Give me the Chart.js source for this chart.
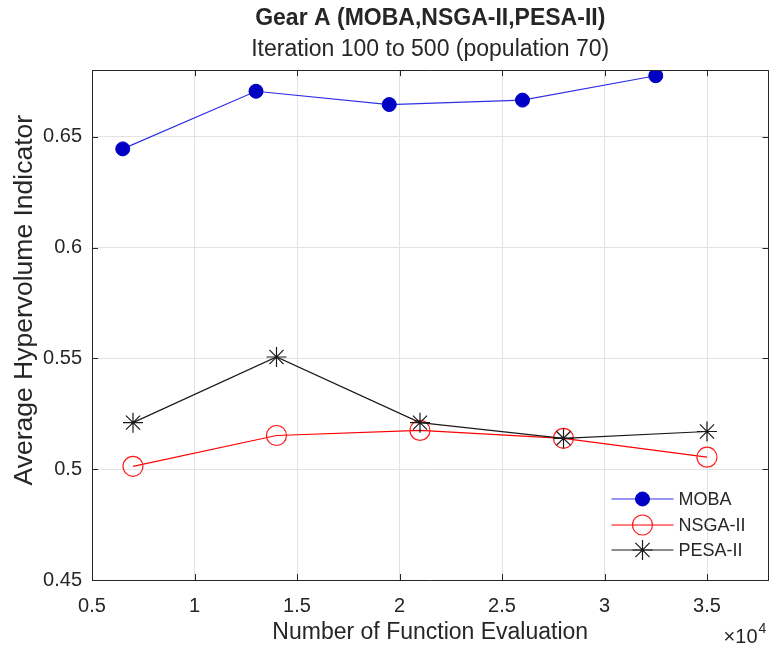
<!DOCTYPE html>
<html>
<head>
<meta charset="utf-8">
<script src="https://cdn.jsdelivr.net/npm/chart.js@4/dist/chart.umd.min.js"></script>
<style>
  html, body { margin: 0; padding: 0; background: #ffffff; }
  #wrap { width: 769px; height: 654px; }
</style>
</head>
<body>
<div id="wrap"><canvas id="hv" width="769" height="654"></canvas></div>
<script>
// Function evaluations at which each algorithm was sampled
const evalsMOBA   = [6500, 13000, 19500, 26000, 32500];
const evalsOthers = [7000, 14000, 21000, 28000, 35000];

// Average hypervolume indicator per algorithm
const hvMOBA = [0.6445, 0.6705, 0.6645, 0.6665, 0.6775];
const hvNSGA = [0.5013, 0.5152, 0.5175, 0.5139, 0.5054];
const hvPESA = [0.5210, 0.5506, 0.5210, 0.5139, 0.5170];

const seriesNames = ['MOBA', 'NSGA-II', 'PESA-II'];

// Axis ticks
const xTickValues = [5000, 10000, 15000, 20000, 25000, 30000, 35000];
const yTickValues = [0.45, 0.5, 0.55, 0.6, 0.65];

const yAxisLabel = 'Average Hypervolume Indicator';

const FONT = "'Liberation Sans', Arial, Helvetica, sans-serif";
const INK = '#262626';
const GRID = '#e3e3e3';

const toXY = (xs, ys) => xs.map((x, i) => ({ x: x, y: ys[i] }));

// Box outline with inward tick marks on all four sides
const boxPlugin = {
  id: 'box',
  afterDatasetsDraw(chart) {
    const { ctx, chartArea: a, scales } = chart;
    const len = 6;
    ctx.save();
    ctx.strokeStyle = INK;
    ctx.lineWidth = 1;
    ctx.beginPath();
    ctx.moveTo(a.left, Math.round(a.top) + 0.5);
    ctx.lineTo(a.right, Math.round(a.top) + 0.5);
    ctx.moveTo(Math.round(a.right) - 0.5, a.top);
    ctx.lineTo(Math.round(a.right) - 0.5, a.bottom);
    scales.x.ticks.forEach(t => {
      const px = Math.round(scales.x.getPixelForValue(t.value)) + 0.5;
      ctx.moveTo(px, a.bottom); ctx.lineTo(px, a.bottom - len);
      ctx.moveTo(px, a.top); ctx.lineTo(px, a.top + len);
    });
    scales.y.ticks.forEach(t => {
      const py = Math.round(scales.y.getPixelForValue(t.value)) + 0.5;
      ctx.moveTo(a.left, py); ctx.lineTo(a.left + len, py);
      ctx.moveTo(a.right, py); ctx.lineTo(a.right - len, py);
    });
    ctx.stroke();
    ctx.restore();
  }
};

// Rotated y-axis caption, set in a slightly larger face
const yLabelPlugin = {
  id: 'yLabel',
  afterDraw(chart) {
    const { ctx, chartArea: a } = chart;
    ctx.save();
    ctx.translate(25, a.top + 230);
    ctx.rotate(-Math.PI / 2);
    ctx.fillStyle = INK;
    ctx.font = '26.5px ' + FONT;
    ctx.textAlign = 'center';
    ctx.textBaseline = 'middle';
    ctx.fillText(yAxisLabel, 0, 0);
    ctx.restore();
  }
};

// Legend drawn as line + marker samples, without a frame
const legendPlugin = {
  id: 'lineLegend',
  afterDraw(chart) {
    const { ctx, chartArea: a } = chart;
    const rowY = [a.bottom - 81, a.bottom - 55, a.bottom - 30];
    const x0 = a.right - 157, x1 = a.right - 95, xm = a.right - 126, xt = a.right - 90;
    ctx.save();
    chart.data.datasets.forEach((ds, i) => {
      const y = rowY[i];
      ctx.strokeStyle = ds.borderColor;
      ctx.lineWidth = ds.borderWidth;
      ctx.beginPath();
      ctx.moveTo(x0, y); ctx.lineTo(x1, y);
      ctx.stroke();
      ctx.fillStyle = ds.pointBackgroundColor;
      ctx.strokeStyle = ds.pointBorderColor;
      ctx.lineWidth = ds.pointBorderWidth;
      Chart.helpers.drawPoint(ctx, {
        pointStyle: ds.pointStyle, radius: ds.pointRadius,
        borderWidth: ds.pointBorderWidth, rotation: 0
      }, xm, y);
      ctx.fillStyle = INK;
      ctx.font = '18px ' + FONT;
      ctx.textAlign = 'left';
      ctx.textBaseline = 'middle';
      ctx.fillText(ds.label, xt, y + 1);
    });
    ctx.restore();
  }
};

// Exponent note under the right end of the x axis
const exponentPlugin = {
  id: 'exponent',
  afterDraw(chart) {
    const { ctx, chartArea: a } = chart;
    ctx.save();
    ctx.fillStyle = INK;
    ctx.textBaseline = 'alphabetic';
    ctx.textAlign = 'right';
    ctx.font = '20px ' + FONT;
    ctx.fillText('\u00d710', a.right - 11, a.bottom + 63);
    ctx.textAlign = 'left';
    ctx.font = '14px ' + FONT;
    ctx.fillText('4', a.right - 10, a.bottom + 53);
    ctx.restore();
  }
};

new Chart(document.getElementById('hv'), {
  type: 'scatter',
  data: {
    datasets: [
      {
        label: seriesNames[0],
        data: toXY(evalsMOBA, hvMOBA),
        showLine: true,
        borderColor: '#2f2fe6',
        borderWidth: 1.2,
        pointStyle: 'circle',
        pointRadius: 7,
        pointBackgroundColor: '#0000c4',
        pointBorderColor: '#0000c4',
        pointBorderWidth: 1,
        order: 2
      },
      {
        label: seriesNames[1],
        data: toXY(evalsOthers, hvNSGA),
        showLine: true,
        borderColor: '#ff0000',
        borderWidth: 1.2,
        pointStyle: 'circle',
        pointRadius: 10,
        pointBackgroundColor: 'rgba(0,0,0,0)',
        pointBorderColor: '#ff1a1a',
        pointBorderWidth: 1.2,
        order: 1
      },
      {
        label: seriesNames[2],
        data: toXY(evalsOthers, hvPESA),
        showLine: true,
        borderColor: '#1a1a1a',
        borderWidth: 1.2,
        pointStyle: 'star',
        pointRadius: 10,
        pointBackgroundColor: 'rgba(0,0,0,0)',
        pointBorderColor: '#1a1a1a',
        pointBorderWidth: 1.2,
        order: 0
      }
    ]
  },
  options: {
    responsive: false,
    animation: false,
    devicePixelRatio: 1,
    layout: { autoPadding: false, padding: { left: 0, right: 0.5, top: 0, bottom: 0 } },
    elements: { line: { tension: 0 } },
    plugins: {
      legend: { display: false },
      tooltip: { enabled: false },
      title: {
        display: true,
        fullSize: false,
        text: 'Gear A (MOBA,NSGA-II,PESA-II)',
        color: INK,
        font: { family: FONT, size: 23, weight: 'bold', lineHeight: 1.2 },
        padding: { top: 5, bottom: 3 }
      },
      subtitle: {
        display: true,
        fullSize: false,
        text: 'Iteration 100 to 500 (population 70)',
        color: INK,
        font: { family: FONT, size: 23, weight: 'normal', lineHeight: 1.2 },
        padding: { top: 0, bottom: 7 }
      }
    },
    scales: {
      x: {
        type: 'linear',
        min: 5000,
        max: 38000,
        afterBuildTicks: s => { s.ticks = xTickValues.map(v => ({ value: v })); },
        afterFit: s => { s.height = 74; },
        ticks: {
          color: INK,
          font: { family: FONT, size: 20 },
          padding: 14,
          maxRotation: 0,
          callback: v => String(v / 10000)
        },
        grid: { color: GRID, drawTicks: false },
        border: { display: true, color: INK, width: 1 },
        title: {
          display: true,
          text: 'Number of Function Evaluation',
          color: INK,
          font: { family: FONT, size: 23, lineHeight: 1.2 },
          padding: { top: 0, bottom: 8 }
        }
      },
      y: {
        min: 0.45,
        max: 0.68,
        afterBuildTicks: s => { s.ticks = yTickValues.map(v => ({ value: v })); },
        afterFit: s => { s.width = 92; },
        ticks: {
          color: INK,
          font: { family: FONT, size: 20 },
          padding: 10,
          callback: v => String(v)
        },
        grid: { color: GRID, drawTicks: false },
        border: { display: true, color: INK, width: 1 },
        title: { display: false }
      }
    }
  },
  plugins: [boxPlugin, yLabelPlugin, legendPlugin, exponentPlugin]
});
</script>
</body>
</html>
